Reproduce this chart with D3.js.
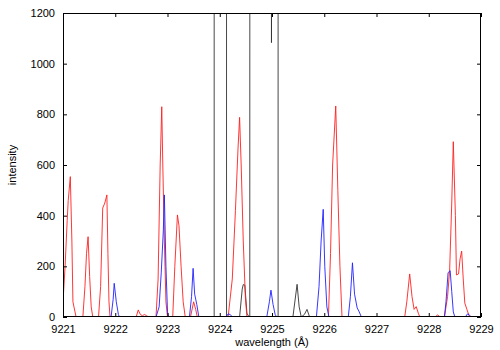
<!DOCTYPE html>
<html><head><meta charset="utf-8">
<script src="https://cdn.jsdelivr.net/npm/d3@7"></script>
<style>body{margin:0;background:#fff}text{font-family:"Liberation Sans",Arial,sans-serif}</style>
</head><body><svg id="c" width="500" height="350"></svg>
<script>
const xTicks = [9221,9222,9223,9224,9225,9226,9227,9228,9229];
const yTicks = [0,200,400,600,800,1000,1200];

const redWl = [9221.00,9221.04,9221.08,9221.10,9221.14,9221.17,9221.19,9221.23,9221.25,
 9221.38,9221.42,9221.45,9221.48,9221.51,9221.54,9221.57,
 9221.68,9221.72,9221.76,9221.80,9221.84,9221.86,9221.88,9221.90,
 9222.40,9222.44,9222.48,9222.52,9222.56,9222.60,9222.64,
 9222.78,9222.82,9222.86,9222.89,9222.91,9222.94,9222.97,9223.00,
 9223.10,9223.14,9223.19,9223.22,9223.26,9223.30,9223.34,
 9223.44,9223.50,9223.54,9223.57,
 9224.16,9224.24,9224.30,9224.35,9224.38,9224.41,9224.45,9224.49,9224.52,
 9226.08,9226.12,9226.16,9226.22,9226.26,9226.30,9226.34,
 9227.54,9227.58,9227.635,9227.68,9227.72,9227.76,9227.80,9227.83,
 9228.12,9228.17,9228.22,
 9228.30,9228.36,9228.40,9228.44,9228.47,9228.51,9228.53,9228.57,9228.60,9228.63,9228.66,9228.69,9228.73,9228.78,9229.00];
const redVal = [60,200,380,460,554,300,60,20,0,
 0,120,250,317,160,40,0,
 0,120,430,450,482,250,60,0,
 0,28,10,5,10,5,0,
 0,150,600,830,600,300,60,0,
 0,200,403,360,200,60,0,
 0,60,30,0,
 0,150,420,667,788,600,300,80,0,
 0,250,600,833,500,200,0,
 0,60,170,80,30,41,15,0,
 0,8,0,
 0,80,185,450,692,400,166,170,230,260,150,55,30,0,0];

const blueWl = [9221.00,9221.92,9221.96,9221.98,9222.02,9222.06,9222.08,
 9222.78,9222.84,9222.88,9222.92,9222.94,9222.97,9223.00,9223.02,
 9223.42,9223.46,9223.49,9223.52,9223.56,9223.60,
 9224.12,9224.16,9224.20,9224.24,
 9224.90,9224.95,9224.98,9225.02,9225.06,9225.09,
 9225.85,9225.90,9225.94,9225.98,9226.01,9226.05,9226.09,
 9226.46,9226.50,9226.54,9226.58,9226.63,9226.67,9226.71,
 9228.30,9228.33,9228.37,9228.41,9228.44,9228.47,9228.50,
 9228.70,9228.74,9228.77,9228.81,9229.00];
const blueVal = [0,0,70,133,60,10,0,
 0,40,174,340,482,200,20,0,
 0,80,192,90,50,0,
 0,12,10,0,
 0,60,106,50,10,0,
 0,120,300,425,200,40,0,
 0,80,214,90,36,20,0,
 0,60,175,183,100,20,0,
 0,12,10,0,0];

const blackWl = [9221.00,9223.893,9223.90,9224.12,9224.13,
 9224.38,9224.43,9224.45,9224.48,9224.52,9224.56,9224.575,9224.585,
 9224.985,9224.99,9224.995,9225.11,9225.117,
 9225.40,9225.48,9225.52,9225.56,9225.62,9225.67,9225.72,9229.00];
const blackVal = [0,0,30000,30000,0,
 0,110,128,126,15,0,0,30000,
 30000,1083,30000,30000,0,
 0,129,40,0,10,30,0,0];

const W=500,H=350,m={l:63,r:19,t:13,b:33};
const svg=d3.select('#c');
const x=d3.scaleLinear().domain([9221,9229]).range([m.l,W-m.r]);
const y=d3.scaleLinear().domain([0,1200]).range([H-m.b,m.t]);

svg.append('clipPath').attr('id','clip').append('rect')
 .attr('x',m.l).attr('y',m.t).attr('width',W-m.l-m.r).attr('height',H-m.t-m.b);

const line=d3.line().x(d=>x(d[0])).y(d=>y(d[1]));
const g=svg.append('g').attr('clip-path','url(#clip)');
function series(wl,val,col){
  g.append('path').datum(wl.map((w,i)=>[w,val[i]]))
   .attr('d',line).attr('fill','none').attr('stroke',col).attr('stroke-width',0.9);
}
series(blackWl,blackVal,'#333');
series(redWl,redVal,'#ff2020');
series(blueWl,blueVal,'#2020ff');

const fs='11px';
svg.append('g').attr('transform',`translate(0,${H-m.b})`)
 .call(d3.axisBottom(x).tickValues(xTicks).tickFormat(d3.format('d')).tickSizeInner(-4).tickSizeOuter(0).tickPadding(8))
 .call(a=>{a.select('.domain').remove();a.selectAll('text').attr('font-size',fs).attr('fill','#000').attr('font-family','Liberation Sans, Arial, sans-serif');});
svg.append('g').attr('transform',`translate(0,${m.t})`)
 .call(d3.axisTop(x).tickValues(xTicks).tickFormat('').tickSizeInner(-4).tickSizeOuter(0))
 .call(a=>a.select('.domain').remove());
svg.append('g').attr('transform',`translate(${m.l},0)`)
 .call(d3.axisLeft(y).tickValues(yTicks).tickFormat(d3.format('d')).tickSizeInner(-4).tickSizeOuter(0).tickPadding(8))
 .call(a=>{a.select('.domain').remove();a.selectAll('text').attr('font-size',fs).attr('fill','#000').attr('font-family','Liberation Sans, Arial, sans-serif');});
svg.append('g').attr('transform',`translate(${W-m.r},0)`)
 .call(d3.axisRight(y).tickValues(yTicks).tickFormat('').tickSizeInner(-4).tickSizeOuter(0))
 .call(a=>a.select('.domain').remove());

svg.append('rect').attr('x',m.l+0.5).attr('y',m.t+0.5).attr('width',W-m.l-m.r-1).attr('height',H-m.t-m.b-1)
 .attr('fill','none').attr('stroke','#000').attr('stroke-width',1);

svg.append('text').attr('x',(m.l+W-m.r)/2).attr('y',346).attr('text-anchor','middle')
 .attr('font-size',fs).text('wavelength (Å)');
svg.append('text').attr('transform',`translate(16,${(m.t+H-m.b)/2}) rotate(-90)`).attr('text-anchor','middle')
 .attr('font-size',fs).text('intensity');
</script></body></html>
